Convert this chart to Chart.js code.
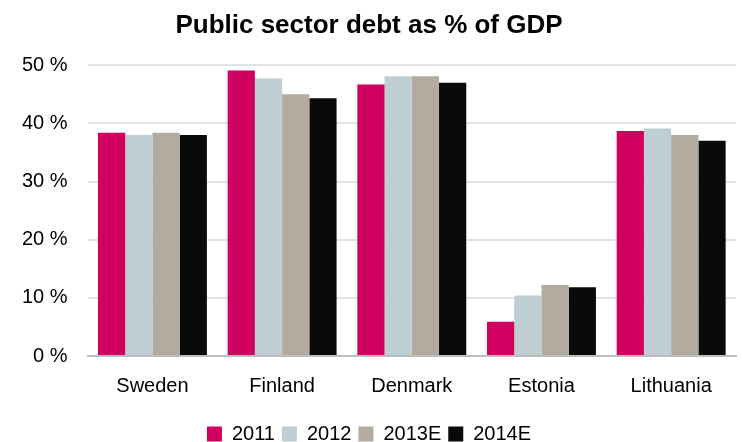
<!DOCTYPE html>
<html>
<head>
<meta charset="utf-8">
<script src="https://cdn.jsdelivr.net/npm/chart.js@4"></script>
<style>
  html, body { margin: 0; padding: 0; background: #fff; }
  #wrap { width: 742px; height: 442px; }
</style>
</head>
<body>
<div id="wrap"><canvas id="myChart" width="742" height="442"></canvas></div>
<script>
// =====================
// Data
// =====================
const countries = ['Sweden', 'Finland', 'Denmark', 'Estonia', 'Lithuania'];
const debt2011 = [38.4, 49.1, 46.7, 5.9, 38.7];
const debt2012 = [38.0, 47.7, 48.1, 10.4, 39.1];
const debt2013E = [38.4, 45.0, 48.1, 12.2, 38.0];
const debt2014E = [38.0, 44.3, 47.0, 11.8, 37.0];
const yTicks = [0, 10, 20, 30, 40, 50];

const fontFamily = '"Liberation Sans", Arial, sans-serif';

// =====================
// Chart
// =====================
const ctx = document.getElementById('myChart').getContext('2d');
const chart = new Chart(ctx, {
    type: 'bar',
    data: {
        labels: countries,
        datasets: [
            { label: '2011', data: debt2011, backgroundColor: '#D0005E' },
            { label: '2012', data: debt2012, backgroundColor: '#BFCED3' },
            { label: '2013E', data: debt2013E, backgroundColor: '#B3AAA0' },
            { label: '2014E', data: debt2014E, backgroundColor: '#0A0A0A' }
        ]
    },
    options: {
        responsive: false,
        animation: false,
        layout: { padding: { left: 2, right: 6, top: 6, bottom: -12 } },
        datasets: {
            bar: { categoryPercentage: 0.84, barPercentage: 1.0 }
        },
        plugins: {
            title: {
                display: true,
                text: 'Public sector debt as % of GDP',
                color: '#000',
                font: { family: fontFamily, size: 26, weight: 'bold' },
                padding: { top: 4, bottom: 24 }
            },
            legend: {
                position: 'bottom',
                labels: {
                    color: '#000',
                    font: { family: fontFamily, size: 20 },
                    boxWidth: 15,
                    boxHeight: 15,
                    padding: 7
                }
            },
            tooltip: { enabled: false }
        },
        scales: {
            x: {
                grid: { display: false },
                border: { display: true, color: '#BDBDBD', width: 2 },
                ticks: {
                    color: '#000',
                    font: { family: fontFamily, size: 20 },
                    padding: 10
                },
                afterFit: scale => { scale.height += 9; }
            },
            y: {
                min: 0,
                max: 50,
                afterBuildTicks: scale => {
                    scale.ticks = yTicks.map(v => ({ value: v }));
                },
                grid: { color: '#E3E3E3', lineWidth: 2, drawTicks: false },
                border: { display: false },
                ticks: {
                    color: '#000',
                    font: { family: fontFamily, size: 20 },
                    padding: 20,
                    callback: value => value + ' %'
                }
            }
        }
    }
});
</script>
</body>
</html>
